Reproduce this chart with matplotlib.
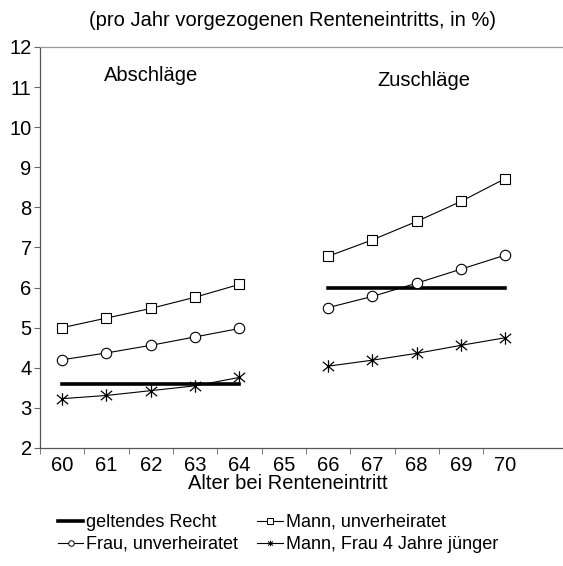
import numpy as np
import matplotlib
matplotlib.use("Agg")
import matplotlib.pyplot as plt
from matplotlib.path import Path

plt.rcParams["font.family"] = ["Liberation Sans", "DejaVu Sans"]

alter = [60, 61, 62, 63, 64, 65, 66, 67, 68, 69, 70]
nan = np.nan

geltendes_recht = [3.6, 3.6, 3.6, 3.6, 3.6, nan, 6.0, 6.0, 6.0, 6.0, 6.0]
mann_unverh = [5.0, 5.24, 5.48, 5.76, 6.08, nan, 6.78, 7.19, 7.65, 8.15, 8.72]
frau_unverh = [4.2, 4.37, 4.56, 4.77, 4.98, nan, 5.5, 5.78, 6.11, 6.46, 6.81]
mann_frau_4j = [3.23, 3.31, 3.43, 3.55, 3.76, nan, 4.04, 4.19, 4.36, 4.56, 4.75]

fs = 14.5

# asterisk marker: vertical stroke plus an X
star = Path(
    [(0, -1), (0, 1), (-0.9, -0.75), (0.9, 0.75), (-0.9, 0.75), (0.9, -0.75)],
    [Path.MOVETO, Path.LINETO, Path.MOVETO, Path.LINETO, Path.MOVETO, Path.LINETO],
)

fig = plt.figure(figsize=(5.63, 5.66), dpi=100)
ax = fig.add_axes([0.071, 0.2085, 0.929, 0.7085])

ax.plot(alter, geltendes_recht, c="black", lw=2.6, label="geltendes Recht")
ax.plot(alter, mann_unverh, c="black", lw=0.8, marker="s", ms=7.5,
        mfc="white", mec="black", mew=0.8, label="Mann, unverheiratet")
ax.plot(alter, frau_unverh, c="black", lw=0.8, marker="o", ms=7.5,
        mfc="white", mec="black", mew=0.8, label="Frau, unverheiratet")
ax.plot(alter, mann_frau_4j, c="black", lw=0.8, marker=star, ms=9,
        mfc="none", mec="black", mew=0.9, label="Mann, Frau 4 Jahre jünger")

ax.set_xlim(59.5, 71.3)
ax.set_ylim(2, 12)
ax.set_yticks(range(2, 13))
ax.set_xticks(alter)
ax.set_xticks(np.arange(59.5, 70.5, 1), minor=True)
ax.tick_params(axis="x", which="major", length=0, labelsize=fs, pad=6)
ax.tick_params(axis="x", which="minor", length=4, direction="out", color="#666666")
ax.tick_params(axis="y", length=4, direction="out", labelsize=fs, color="#666666", pad=2)

ax.spines["right"].set_visible(False)
ax.spines["top"].set_color("#999999")
ax.spines["left"].set_color("#555555")
ax.spines["bottom"].set_color("#555555")
for s in ax.spines.values():
    s.set_linewidth(0.9)

ax.text(62.0, 11.3, "Abschläge", fontsize=fs, ha="center", va="center")
ax.text(68.17, 11.17, "Zuschläge", fontsize=fs, ha="center", va="center")

ax.text(65.2, 1.066, "(pro Jahr vorgezogenen Renteneintritts, in %)",
        transform=ax.get_xaxis_transform(), fontsize=fs, ha="center", va="center")
ax.text(65.1, -0.089, "Alter bei Renteneintritt",
        transform=ax.get_xaxis_transform(), fontsize=fs, ha="center", va="center")

handles, labels = ax.get_legend_handles_labels()
order = [0, 2, 1, 3]
leg = fig.legend([handles[i] for i in order], [labels[i] for i in order],
                 loc="upper left", bbox_to_anchor=(0.103, 0.092), ncol=2,
                 frameon=False, fontsize=13, handlelength=1.4,
                 handletextpad=0.17, columnspacing=1.05, labelspacing=0.28,
                 borderpad=0, borderaxespad=0)
for line in leg.get_lines():
    line.set_markersize(4)
    line.set_markeredgewidth(0.7)

fig.savefig("out.png", dpi=100)
